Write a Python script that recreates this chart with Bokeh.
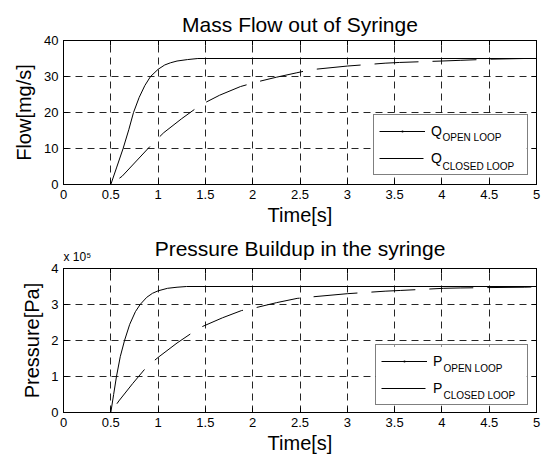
from bokeh.plotting import figure
from bokeh.layouts import column
from bokeh.models import (FixedTicker, NumeralTickFormatter, LinearAxis, Legend,
                          LegendItem, Label, Range1d, CustomJSTickFormatter,
                          ColumnDataSource, BoxAnnotation)
from bokeh.embed import file_html
from bokeh.resources import INLINE

# ---------------- data ----------------
x_ticks = [0, 0.5, 1, 1.5, 2, 2.5, 3, 3.5, 4, 4.5, 5]
flow_ticks = [0, 10, 20, 30, 40]
pressure_ticks = [0, 1, 2, 3, 4]

# Mass flow [mg/s]
t_flow_open = [0, 0.5, 0.56, 0.63, 0.69, 0.74, 0.8, 0.86, 0.92, 1.0, 1.07, 1.13, 1.2, 1.31, 1.42, 5.0]
flow_open = [0, 0, 4.6, 10, 15.2, 20, 24.2, 27.5, 30, 32, 33.2, 33.8, 34.3, 34.7, 35, 35]

t_flow_closed = [0, 0.5, 0.62, 0.78, 0.94, 1.06, 1.25, 1.45, 1.65, 1.87, 2.03, 2.25, 2.46,
                 2.62, 3.0, 3.4, 3.55, 4.0, 4.2, 4.5, 4.87, 5.0]
flow_closed = [0, 0, 2.3, 6.8, 11.3, 14.4, 18.3, 22.1, 24.8, 27.2, 28.4, 29.8, 31.0,
               31.9, 32.9, 33.7, 33.9, 34.3, 34.5, 34.8, 35.0, 35.0]

# Pressure [x 10^5 Pa]
t_pres_open = [0, 0.5, 0.53, 0.56, 0.6, 0.645, 0.7, 0.76, 0.81, 0.88, 0.94, 1.0, 1.1, 1.2, 1.3, 5.0]
pres_open_e5 = [0, 0, 0.5, 1.0, 1.55, 2.0, 2.45, 2.8, 3.0, 3.2, 3.31, 3.38, 3.45, 3.48, 3.5, 3.5]

t_pres_closed = [0, 0.5, 0.585, 0.73, 0.88, 1.01, 1.2, 1.38, 1.47, 1.68, 1.88, 2.03, 2.25,
                 2.47, 2.62, 3.0, 3.4, 3.56, 4.02, 4.2, 4.5, 4.87, 5.0]
pres_closed_e5 = [0, 0, 0.32, 0.8, 1.27, 1.55, 1.93, 2.25, 2.39, 2.63, 2.83, 2.91, 3.05,
                  3.17, 3.21, 3.3, 3.37, 3.39, 3.45, 3.46, 3.47, 3.48, 3.49]

FONT = "Liberation Sans"


def style_axis(ax, ticks, show_labels, fmt=None, standoff=0):
    ax.ticker = FixedTicker(ticks=ticks)
    ax.major_tick_in = 5
    ax.major_tick_out = 0
    ax.minor_tick_line_color = None
    ax.axis_line_color = "black"
    ax.major_tick_line_color = "black"
    if show_labels:
        ax.major_label_text_font = FONT
        ax.major_label_text_font_size = "13px"
        ax.major_label_text_color = "black"
        ax.major_label_standoff = 5
        if fmt is not None:
            ax.formatter = fmt
    else:
        ax.formatter = CustomJSTickFormatter(code="return ''")
        ax.major_label_text_font_size = "0px"
        ax.major_label_standoff = standoff


def make_fig(height, top, bottom, title, xlabel, ylabel, yticks, ymax, ylabel_standoff,
             top_gap):
    p = figure(width=544, height=height, output_backend="svg", toolbar_location=None,
               x_range=Range1d(0, 5), y_range=Range1d(0, ymax),
               min_border_left=63, min_border_right=8,
               min_border_top=top, min_border_bottom=bottom, title=title)
    p.background_fill_color = "white"
    p.border_fill_color = "white"
    p.outline_line_color = "black"
    p.outline_line_width = 1

    if title is not None:
        p.title.text_font = FONT
        p.title.text_font_size = "21px"
        p.title.text_font_style = "normal"
        p.title.align = "center"
        p.title.text_color = "black"
        p.title.standoff = 10

    p.add_layout(LinearAxis(), "above")
    p.add_layout(LinearAxis(), "right")

    style_axis(p.below[0], x_ticks, True, NumeralTickFormatter(format="0.[0]"))
    style_axis(p.left[0], yticks, True)
    style_axis(p.above[0], x_ticks, False, standoff=top_gap)
    style_axis(p.right[0], yticks, False)

    for ax, lab, st in ((p.below[0], xlabel, 2), (p.left[0], ylabel, ylabel_standoff)):
        ax.axis_label = lab
        ax.axis_label_text_font = FONT
        ax.axis_label_text_font_size = "20px"
        ax.axis_label_text_font_style = "normal"
        ax.axis_label_text_color = "black"
        ax.axis_label_standoff = st

    p.xgrid.ticker = FixedTicker(ticks=x_ticks)
    p.ygrid.ticker = FixedTicker(ticks=yticks)
    for g in (p.xgrid[0], p.ygrid[0]):
        g.grid_line_color = "black"
        g.grid_line_alpha = 0.85
        g.grid_line_dash = "7 5"
        g.grid_line_width = 1
    return p


def add_legend(p, sym, t_open, v_open, r_open, r_closed, loc, label_width, sub_x, sub_y1, sub_y2):
    pad, gw, gh, sp, ls = 5, 46, 22, 5, 6
    w = 2 * pad + gw + ls + label_width
    h = 2 * pad + 2 * gh + sp
    # white box under the (transparent) legend so the subscripts can sit on top of it
    p.add_layout(BoxAnnotation(left=loc[0], right=loc[0] + w, bottom=loc[1], top=loc[1] + h,
                               left_units="screen", right_units="screen",
                               bottom_units="screen", top_units="screen",
                               fill_color="white", fill_alpha=1, line_color=None))
    # marker sample for the open-loop entry (size 0: nothing drawn in the plot itself)
    src = ColumnDataSource(data=dict(x=t_open, y=v_open))
    dot = p.scatter("x", "y", source=src, marker="dot", size=0, line_color="black",
                    fill_color="black")
    leg = Legend(items=[LegendItem(label=sym, renderers=[r_open, dot]),
                        LegendItem(label=sym, renderers=[r_closed])],
                 location=loc, orientation="vertical", margin=0, padding=pad,
                 spacing=sp, glyph_width=gw, glyph_height=gh, label_height=gh,
                 label_width=label_width, label_standoff=ls,
                 label_text_font=FONT, label_text_font_size="14px",
                 label_text_color="black", border_line_color="black",
                 border_line_width=1, background_fill_alpha=0)
    p.add_layout(leg)
    for txt, yy in (("OPEN LOOP", sub_y1), ("CLOSED LOOP", sub_y2)):
        p.add_layout(Label(x=0, y=0, x_offset=sub_x, y_offset=yy, text=txt, level="overlay",
                           text_font=FONT, text_font_size="10px", text_color="black",
                           text_baseline="alphabetic"))


# ---------- top: flow ----------
p1 = make_fig(228, 40, 43, "Mass Flow out of Syringe", "Time[s]", "Flow[mg/s]",
              flow_ticks, 40, 6, 5)
r1o = p1.line(t_flow_open, flow_open, line_color="black", line_width=1)
r1c = p1.line(t_flow_closed, flow_closed, line_color="black", line_width=1, line_dash="44 14")
add_legend(p1, "Q", t_flow_open, flow_open, r1o, r1c, (310, 9), 91, 379, 47, 18.5)

# ---------- bottom: pressure ----------
p2 = make_fig(229, 40, 45, None, "Time[s]", "Pressure[Pa]",
              pressure_ticks, 4, 5, 0)
r2o = p2.line(t_pres_open, pres_open_e5, line_color="black", line_width=1)
r2c = p2.line(t_pres_closed, pres_closed_e5, line_color="black", line_width=1, line_dash="44 14")
add_legend(p2, "P", t_pres_open, pres_open_e5, r2o, r2c, (312, 7), 89, 380, 44, 17)

# title and axis scale factor, both anchored to the top edge of the frame
p2.add_layout(Label(x=2.5, y=4, y_offset=20, text="Pressure Buildup in the syringe",
                    text_font=FONT, text_font_size="21px", text_color="black",
                    text_align="center", text_baseline="alphabetic"), "above")
p2.add_layout(Label(x=0, y=4, x_offset=0, y_offset=12, text="x 10\u2075", text_font=FONT,
                    text_font_size="12px", text_color="black", text_baseline="alphabetic"),
              "above")

layout = column(p1, p2, spacing=0)
open("out.html", "w").write(file_html(layout, INLINE))
